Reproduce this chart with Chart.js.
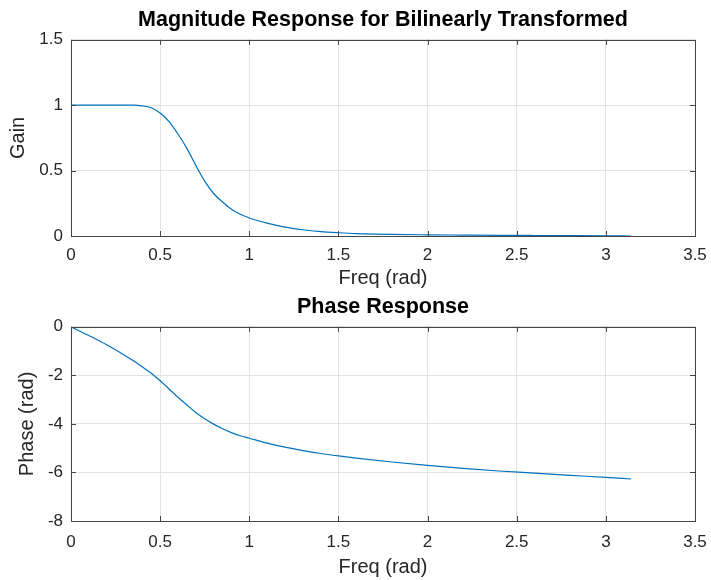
<!DOCTYPE html>
<html>
<head>
<meta charset="utf-8">
<script src="https://cdn.jsdelivr.net/npm/chart.js@4/dist/chart.umd.min.js"></script>
<style>
  html, body { margin: 0; padding: 0; background: #fff; }
  canvas { display: block; }
</style>
</head>
<body>
<canvas id="magChart" width="711" height="290"></canvas>
<canvas id="phaseChart" width="711" height="290"></canvas>
<script>
// frequency response of the bilinear-transformed filter, 0..pi
const freqRad = [0, 0.1, 0.2, 0.3, 0.35, 0.4, 0.45, 0.5, 0.55, 0.6, 0.65, 0.7, 0.75, 0.8, 0.85, 0.9, 0.95,
  1.0, 1.1, 1.2, 1.3, 1.4, 1.5, 1.6, 1.8, 2.0, 2.2, 2.4, 2.6, 2.8, 3.0, 3.1416];
const gainVals = [1, 1, 1, 1, 1, 0.995, 0.98, 0.94, 0.875, 0.78, 0.67, 0.54, 0.42, 0.325, 0.26, 0.205, 0.166,
  0.138, 0.098, 0.068, 0.048, 0.034, 0.025, 0.018, 0.012, 0.009, 0.007, 0.005, 0.004, 0.003, 0.002, 0];
const phaseVals = [0, -0.36, -0.74, -1.17, -1.40, -1.65, -1.91, -2.22, -2.56, -2.90, -3.22, -3.53, -3.79, -4.01, -4.20, -4.36, -4.49,
  -4.59, -4.79, -4.96, -5.10, -5.22, -5.32, -5.41, -5.57, -5.71, -5.83, -5.94, -6.03, -6.12, -6.20, -6.27];

const xTicks = [0, 0.5, 1, 1.5, 2, 2.5, 3, 3.5];
const gainTicks = [0, 0.5, 1, 1.5];
const phaseTicks = [-8, -6, -4, -2, 0];

const FONT = "'Liberation Sans', Arial, Helvetica, sans-serif";
const TEXT = "#262626";
const AXIS = "#444444";
const GRID = "#e3e3e3";
const LINE = "#0072bd";

// box around the axes with short inward ticks on every side
const boxPlugin = {
  id: "box",
  afterDraw(chart) {
    const { ctx, chartArea: a, scales } = chart;
    ctx.save();
    ctx.strokeStyle = AXIS;
    ctx.lineWidth = 1;
    ctx.beginPath();
    scales.x.ticks.forEach((t) => {
      const px = Math.round(scales.x.getPixelForValue(t.value)) + 0.5;
      ctx.moveTo(px, a.bottom); ctx.lineTo(px, a.bottom - 5);
      ctx.moveTo(px, a.top); ctx.lineTo(px, a.top + 5);
    });
    scales.y.ticks.forEach((t) => {
      const py = Math.round(scales.y.getPixelForValue(t.value)) + 0.5;
      ctx.moveTo(a.left, py); ctx.lineTo(a.left + 5, py);
      ctx.moveTo(a.right, py); ctx.lineTo(a.right - 5, py);
    });
    ctx.stroke();
    ctx.strokeRect(Math.round(a.left) + 0.5, Math.round(a.top) + 0.5,
      Math.round(a.right - a.left), Math.round(a.bottom - a.top));
    ctx.restore();
  },
};

const plainNum = (v) => String(v);

function makeChart(id, o) {
  const points = freqRad.map((f, i) => ({ x: f, y: o.values[i] }));
  return new Chart(document.getElementById(id), {
    type: "scatter",
    data: {
      datasets: [{
        data: points,
        showLine: true,
        borderColor: LINE,
        borderWidth: 1.2,
        pointRadius: 0,
        cubicInterpolationMode: "monotone",
      }],
    },
    plugins: [boxPlugin],
    options: {
      responsive: false,
      animation: false,
      devicePixelRatio: 1,
      layout: { padding: { left: 0, right: 16, top: 0, bottom: 0 } },
      plugins: {
        legend: { display: false },
        tooltip: { enabled: false },
        title: {
          display: true,
          fullSize: false,
          text: o.title,
          color: "#000",
          font: { family: FONT, size: 21.5, weight: "bold" },
          padding: o.titlePad,
        },
      },
      scales: {
        x: {
          type: "linear",
          min: 0,
          max: 3.5,
          afterBuildTicks: (s) => { s.ticks = xTicks.map((v) => ({ value: v })); },
          afterFit: (s) => {
            s.height = o.xHeight;
            s.paddingLeft = 0;
            s.paddingRight = 0;
          },
          grid: { color: GRID, drawTicks: false },
          border: { display: false },
          ticks: {
            color: TEXT,
            font: { family: FONT, size: 17 },
            padding: o.xTickPad,
            maxRotation: 0,
            callback: plainNum,
          },
          title: {
            display: true,
            text: "Freq (rad)",
            color: TEXT,
            font: { family: FONT, size: 20 },
            padding: { top: 0, bottom: o.xTitlePad },
          },
        },
        y: {
          type: "linear",
          min: o.yTicks[0],
          max: o.yTicks[o.yTicks.length - 1],
          afterBuildTicks: (s) => { s.ticks = o.yTicks.map((v) => ({ value: v })); },
          afterFit: (s) => { s.width = 71; },
          grid: { color: GRID, drawTicks: false },
          border: { display: false },
          ticks: {
            color: TEXT,
            font: { family: FONT, size: 17 },
            padding: 8,
            callback: plainNum,
          },
          title: {
            display: true,
            text: o.yLabel,
            color: TEXT,
            font: { family: FONT, size: 20 },
            padding: { top: o.yTitlePad, bottom: 0 },
          },
        },
      },
    },
  });
}

makeChart("magChart", {
  title: "Magnitude Response for Bilinearly Transformed",
  titlePad: { top: 7, bottom: 7 },
  values: gainVals,
  yTicks: gainTicks,
  yLabel: "Gain",
  yTitlePad: 6,
  xHeight: 54,
  xTickPad: 9,
  xTitlePad: 0,
});

makeChart("phaseChart", {
  title: "Phase Response",
  titlePad: { top: 4, bottom: 7 },
  values: phaseVals,
  yTicks: phaseTicks,
  yLabel: "Phase (rad)",
  yTitlePad: 15,
  xHeight: 59,
  xTickPad: 11,
  xTitlePad: 1,
});
</script>
</body>
</html>
